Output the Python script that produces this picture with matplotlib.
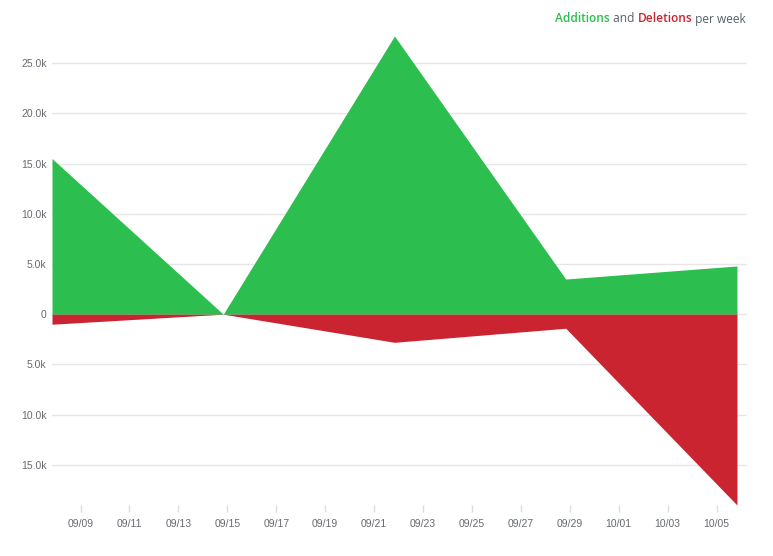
import datetime as dt
import matplotlib
matplotlib.use("Agg")
import matplotlib.pyplot as plt
import matplotlib.dates as mdates
from matplotlib.ticker import FuncFormatter

# weekly points (GitHub code frequency, local time 20:00)
weeks = ["2019-09-07 20:00", "2019-09-14 20:00", "2019-09-21 20:00",
         "2019-09-28 20:00", "2019-10-05 20:00"]
additions = [15500, 0, 27700, 3500, 4800]
deletions = [-1000, 0, -2800, -1400, -19000]

GREEN = "#2cbe4e"
RED = "#cb2431"
GREY = "#586069"

dates = [dt.datetime.strptime(w, "%Y-%m-%d %H:%M") for w in weeks]

plt.rcParams["font.family"] = ["Liberation Sans", "DejaVu Sans"]

fig = plt.figure(figsize=(7.73, 5.56), dpi=100)
ax = fig.add_axes([52 / 773, 1 - 505 / 556, (747 - 52) / 773, (505 - 36) / 556])

ax.fill_between(dates, 0, additions, color=GREEN, linewidth=0, zorder=3)
ax.fill_between(dates, 0, deletions, color=RED, linewidth=0, zorder=3)

ax.set_xlim(dates[0], dates[-1] + dt.timedelta(days=0.41))
ax.set_ylim(min(deletions), max(additions))

ax.xaxis.set_major_locator(mdates.DayLocator(bymonthday=[1, 3, 5, 9, 11, 13, 15, 17, 19, 21, 23, 25, 27, 29]))
ax.xaxis.set_major_formatter(mdates.DateFormatter("%m/%d"))


def kfmt(v, pos):
    if abs(v) < 1:
        return "0"
    return f"{abs(v) / 1000:.1f}k"


ax.set_yticks([-15000, -10000, -5000, 0, 5000, 10000, 15000, 20000, 25000])
ax.yaxis.set_major_formatter(FuncFormatter(kfmt))
ax.grid(axis="y", color="#e6e6e6", linewidth=1, zorder=0)

for s in ax.spines.values():
    s.set_visible(False)

ax.tick_params(axis="y", length=0, pad=4, labelsize=7.5, labelcolor="#666a70")
ax.tick_params(axis="x", length=5, width=1, color="#dddddd", pad=5,
               labelsize=7.5, labelcolor="#666a70", direction="out")

# legend-like title with coloured words
fig.canvas.draw()
r = fig.canvas.get_renderer()
parts = [(" per week", GREY), ("Deletions", RED), (" and ", GREY), ("Additions", GREEN)]
x = 746
y = 1 - 19 / 556
for txt, col in parts:
    t = fig.text(x / 773, y, txt, ha="right", va="center", color=col,
                 fontsize=8.6, family=["Open Sans", "DejaVu Sans"],
                 weight="semibold" if col != GREY else "normal")
    bb = t.get_window_extent(renderer=r)
    x -= bb.width

fig.savefig("out.png", dpi=100)
